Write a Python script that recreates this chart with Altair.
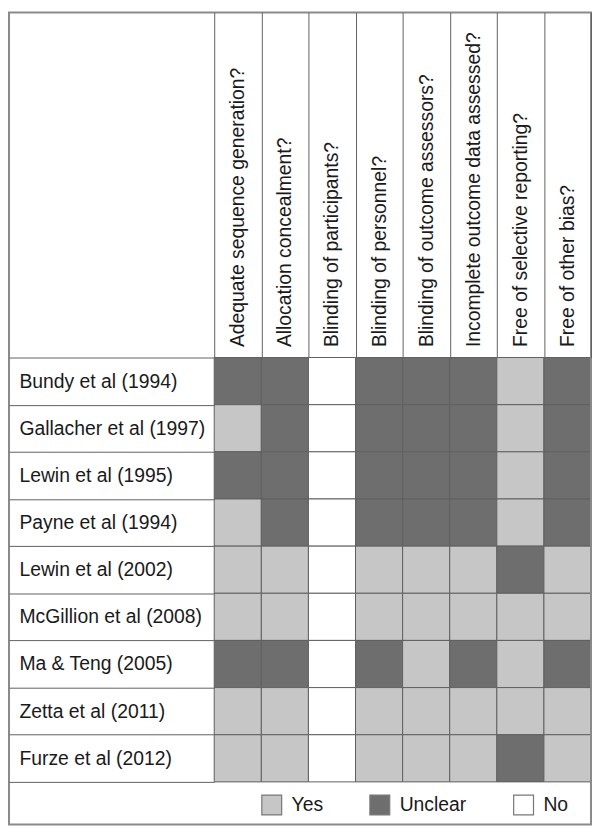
import altair as alt
import pandas as pd

studies = [
    "Bundy et al (1994)",
    "Gallacher et al (1997)",
    "Lewin et al (1995)",
    "Payne et al (1994)",
    "Lewin et al (2002)",
    "McGillion et al (2008)",
    "Ma & Teng (2005)",
    "Zetta et al (2011)",
    "Furze et al (2012)",
]

questions = [
    "Adequate sequence generation?",
    "Allocation concealment?",
    "Blinding of participants?",
    "Blinding of personnel?",
    "Blinding of outcome assessors?",
    "Incomplete outcome data assessed?",
    "Free of selective reporting?",
    "Free of other bias?",
]

# one list per study, in question order
ratings = [
    ["Unclear", "Unclear", "No", "Unclear", "Unclear", "Unclear", "Yes", "Unclear"],
    ["Yes", "Unclear", "No", "Unclear", "Unclear", "Unclear", "Yes", "Unclear"],
    ["Unclear", "Unclear", "No", "Unclear", "Unclear", "Unclear", "Yes", "Unclear"],
    ["Yes", "Unclear", "No", "Unclear", "Unclear", "Unclear", "Yes", "Unclear"],
    ["Yes", "Yes", "No", "Yes", "Yes", "Yes", "Unclear", "Yes"],
    ["Yes", "Yes", "No", "Yes", "Yes", "Yes", "Yes", "Yes"],
    ["Unclear", "Unclear", "No", "Unclear", "Yes", "Unclear", "Yes", "Unclear"],
    ["Yes", "Yes", "No", "Yes", "Yes", "Yes", "Yes", "Yes"],
    ["Yes", "Yes", "No", "Yes", "Yes", "Yes", "Unclear", "Yes"],
]

levels = ["Yes", "Unclear", "No"]
level_colors = ["#c6c6c6", "#6e6e6e", "#ffffff"]

rows = [
    {"study": s, "question": q, "rating": r}
    for s, rr in zip(studies, ratings)
    for q, r in zip(questions, rr)
]
df = pd.DataFrame(rows)

LABEL_W = 207
HEADER_H = 348
LEGEND_H = 43
W = 380
H = 428
FONT = "Liberation Sans, Arial, Helvetica, sans-serif"
LINE = "#606060"
TEXT = "#1a1a1a"
FS = 19.5

cells = alt.Chart(df).mark_rect(stroke=LINE, strokeWidth=1).encode(
    x=alt.X(
        "question:N",
        sort=questions,
        scale=alt.Scale(paddingInner=0, paddingOuter=0),
        axis=alt.Axis(
            orient="top", title=None, labelAngle=-90, labelAlign="left",
            labelBaseline="middle", labelPadding=11 - HEADER_H,
            tickBand="extent", tickSize=HEADER_H, tickColor=LINE, tickWidth=1,
            domain=False, grid=False, labelFont=FONT, labelFontSize=FS,
            labelColor=TEXT, labelLimit=0, labelOverlap=False,
        ),
    ),
    y=alt.Y(
        "study:N",
        sort=studies,
        scale=alt.Scale(paddingInner=0, paddingOuter=0),
        axis=alt.Axis(
            orient="left", title=None, labelAlign="left", labelBaseline="middle",
            labelPadding=-10, tickBand="extent", tickSize=LABEL_W,
            tickColor=LINE, tickWidth=1, domain=False, grid=False,
            labelFont=FONT, labelFontSize=FS, labelColor=TEXT, labelLimit=0,
            labelOverlap=False,
        ),
    ),
    fill=alt.Fill(
        "rating:N",
        scale=alt.Scale(domain=levels, range=level_colors),
        legend=alt.Legend(
            orient="none", legendX=47, legendY=440, direction="horizontal",
            title=None, symbolType="square", symbolSize=400,
            symbolStrokeColor="#777777", symbolStrokeWidth=1.2, symbolOpacity=1,
            labelFont=FONT, labelFontSize=FS, labelColor=TEXT, labelOffset=9,
            columnPadding=44, padding=0, labelLimit=0,
        ),
    ),
)

frame = alt.Chart(pd.DataFrame({"k": [0]})).mark_rect(
    fillOpacity=0, stroke="#8a8a8a", strokeWidth=2
).encode(
    x=alt.value(-LABEL_W), x2=alt.value(W),
    y=alt.value(-HEADER_H), y2=alt.value(H + LEGEND_H),
)

chart = (
    alt.layer(cells, frame)
    .properties(width=W, height=H, padding=0)
    .configure_view(strokeWidth=0)
)

chart.save("out.html", embed_options={"renderer": "svg", "actions": False})
